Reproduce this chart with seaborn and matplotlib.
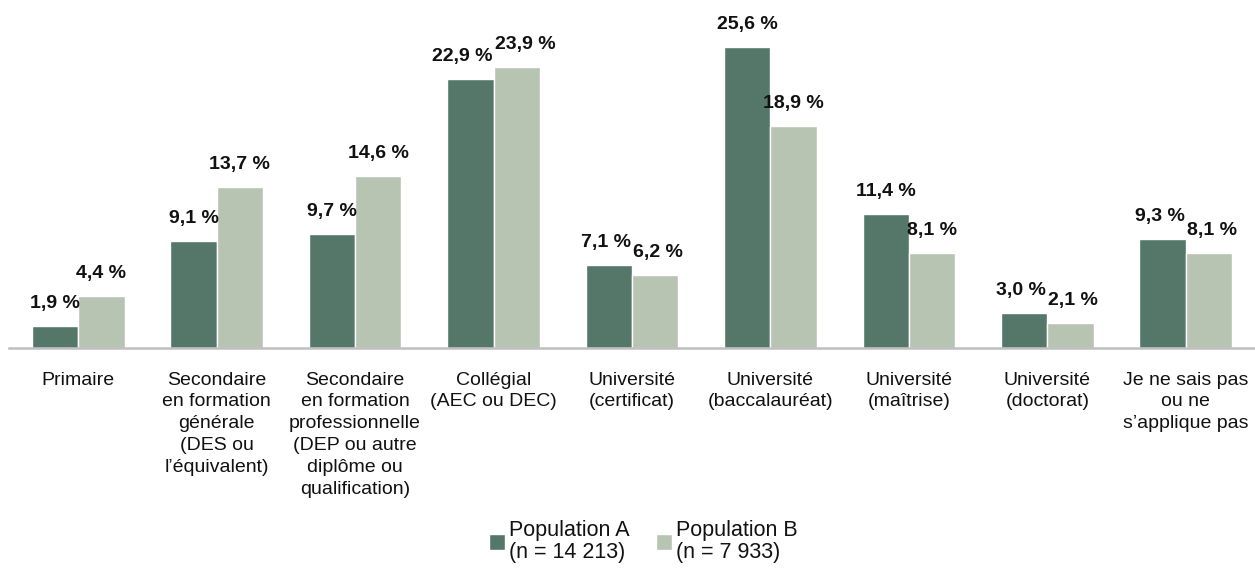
import pandas as pd
import matplotlib
matplotlib.use("Agg")
import matplotlib.pyplot as plt
import seaborn as sns

categories = [
    "Primaire",
    "Secondaire\nen formation\ngénérale\n(DES ou\nl’équivalent)",
    "Secondaire\nen formation\nprofessionnelle\n(DEP ou autre\ndiplôme ou\nqualification)",
    "Collégial\n(AEC ou DEC)",
    "Université\n(certificat)",
    "Université\n(baccalauréat)",
    "Université\n(maîtrise)",
    "Université\n(doctorat)",
    "Je ne sais pas\nou ne\ns’applique pas",
]
pop_a = [1.9, 9.1, 9.7, 22.9, 7.1, 25.6, 11.4, 3.0, 9.3]
pop_b = [4.4, 13.7, 14.6, 23.9, 6.2, 18.9, 8.1, 2.1, 8.1]
series = ["Population A\n(n = 14 213)", "Population B\n(n = 7 933)"]
colors = ["#55776A", "#B8C4B2"]

df = pd.DataFrame({
    "cat": categories * 2,
    "val": pop_a + pop_b,
    "pop": [series[0]] * len(pop_a) + [series[1]] * len(pop_b),
})

sns.set_theme(style="white")
plt.rcParams["font.family"] = ["Liberation Sans Narrow", "Liberation Sans", "DejaVu Sans"]

fig = plt.figure(figsize=(12.55, 5.76), dpi=100)
ax = fig.add_axes([9 / 1255, 1 - 348 / 576, 1246 / 1255, 348 / 576])

sns.barplot(data=df, x="cat", y="val", hue="pop", palette=colors,
            width=0.67, saturation=1, ax=ax, legend=True)

pad = 10
all_labels = []
for cont in ax.containers:
    labels = [f"{v:.1f} %".replace(".", ",") for v in cont.datavalues]
    all_labels.append(ax.bar_label(cont, labels=labels, padding=pad, fontsize=14,
                                   fontweight="bold", color="#111111"))

ax.set_xlim(-0.5, 8.5)
ax.set_ylim(0, 29.6)
ax.set_xlabel("")
ax.set_ylabel("")
ax.set_yticks([])
for s in ["top", "right", "left"]:
    ax.spines[s].set_visible(False)
ax.spines["bottom"].set_color("#BFBFBF")
ax.spines["bottom"].set_linewidth(1.8)
ax.tick_params(axis="x", length=0, pad=17, labelsize=14, labelcolor="#111111")
for t in ax.get_xticklabels():
    t.set_linespacing(1.37)

# push apart value labels that collide (like Excel does)
fig.canvas.draw()
r = fig.canvas.get_renderer()
for la, lb in zip(all_labels[0], all_labels[1]):
    ba, bb = la.get_window_extent(r), lb.get_window_extent(r)
    if ba.overlaps(bb):
        shift = (ba.x1 - bb.x0 + 2) / 2 * 72 / fig.dpi
        la.xyann = (-shift, pad)
        lb.xyann = (shift, pad)

ax.legend(loc="center", bbox_to_anchor=(0.509, -0.555), ncol=2, frameon=False,
          fontsize=15.5, handlelength=0.75, handleheight=0.75, handletextpad=0.2,
          columnspacing=1.2, labelcolor="#111111")
for t in ax.get_legend().get_texts():
    t.set_linespacing(1.05)

fig.savefig("out.png", dpi=100)
